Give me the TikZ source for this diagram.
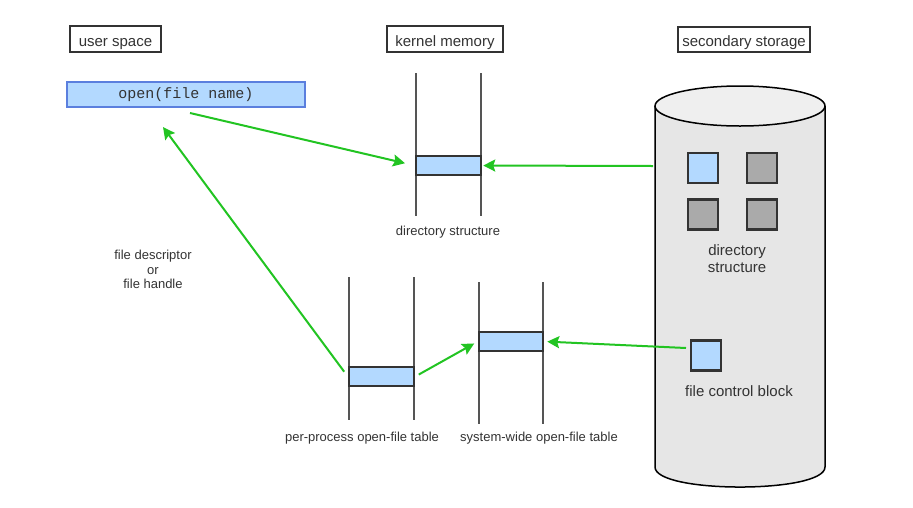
\documentclass[tikz,border=0pt]{standalone}
\usepackage{fontspec}
\setmainfont{Liberation Sans}
\newfontfamily\monof{Liberation Mono}
\usetikzlibrary{arrows.meta}
\definecolor{grn}{RGB}{34,196,34}
\definecolor{lblue}{RGB}{179,217,255}
\definecolor{bblue}{RGB}{91,127,222}
\definecolor{txt}{RGB}{51,51,51}
\definecolor{dk}{RGB}{51,51,51}
\definecolor{vline}{RGB}{85,85,85}
\definecolor{sqgray}{RGB}{170,170,170}
\definecolor{cylbody}{RGB}{230,230,230}
\definecolor{cyltop}{RGB}{239,239,239}
\begin{document}
\begin{tikzpicture}[x=1pt,y=-1pt,
  hdr/.style={draw=dk,line width=2pt,inner sep=0pt,text=txt,font=\fontsize{15}{18}\selectfont,text height=16pt,text depth=2pt},
  entry/.style={draw=dk,fill=lblue,line width=2.5pt,inner sep=0pt,minimum width=65pt,minimum height=19pt},
  sq/.style={draw=dk,line width=2.2pt,inner sep=0pt,minimum width=30pt,minimum height=30pt},
  lbl/.style={text=txt,inner sep=0pt,font=\fontsize{13}{16}\selectfont,align=center},
  lblbig/.style={text=txt,inner sep=0pt,font=\fontsize{15}{18}\selectfont,align=center},
  wall/.style={draw=vline,line width=2pt},
  arr/.style={draw=grn,line width=2pt,-{Stealth[length=12pt,width=12pt,inset=2pt]}}]
\useasboundingbox (0,0) rectangle (913,507);
\fill[white] (0,0) rectangle (913,507);

% headers
\node[hdr,minimum width=91pt,minimum height=26pt] (us) at (115.5,39) {user space};
\node[hdr,minimum width=116pt,minimum height=26pt] (km) at (445,39) {kernel memory};
\node[hdr,minimum width=132pt,minimum height=25pt] (ss) at (744,39.5) {secondary storage};

% open box
\node[draw=bblue,fill=lblue,line width=2pt,inner sep=0pt,minimum width=238pt,minimum height=25pt,font=\monof\fontsize{15}{18}\selectfont,text=txt] (op) at (186,94.5) {open(file name)};

% cylinder
\path[fill=cylbody,draw=black,line width=1.5pt] (655,106) -- (655,467) .. controls (655,493.7) and (825,493.7) .. (825,467) -- (825,106);
\path[fill=cyltop,draw=black,line width=1.5pt] (740,106) ellipse [x radius=85, y radius=20];

\node[sq,fill=lblue] (s1) at (703,168) {};
\node[sq,fill=sqgray] (s2) at (762,168) {};
\node[sq,fill=sqgray] (s3) at (703,214.5) {};
\node[sq,fill=sqgray] (s4) at (762,214.5) {};
\node[lblbig] (dsl) at (737,258.5) {directory\\[-0.5pt]structure};
\node[sq,fill=lblue] (fcb) at (706,355.5) {};
\node[lblbig] (fcbl) at (739,391.5) {file control block};

% kernel directory structure
\draw[wall] (416,73) -- (416,216);
\draw[wall] (481,73) -- (481,216);
\node[entry] (kd) at (448.5,165.5) {};
\node[lbl] (kdl) at (448,232) {directory structure};

% per-process table
\draw[wall] (349,277) -- (349,420);
\draw[wall] (414,277) -- (414,420);
\node[entry] (pp) at (381.5,376.5) {};
\node[lbl] (ppl) at (362,438) {per-process open-file table};

% system-wide table
\draw[wall] (479,282) -- (479,424);
\draw[wall] (543,282) -- (543,424);
\node[entry,minimum width=64pt] (sw) at (511,341.5) {};
\node[lbl] (swl) at (539,438) {system-wide open-file table};

% descriptor label
\node[lbl,font=\fontsize{13}{14.5}\selectfont] (fd) at (153,269.5) {file descriptor\\or\\file handle};

% connectors
\coordinate (c1) at (190,113);
\coordinate (c2) at (653,166);
\coordinate (c3) at (163,127);
\coordinate (c5) at (686,348);
\draw[arr,shorten >=10pt] (c1) -- (kd.west);
\draw[arr,shorten >=1pt] (c2) -- (kd.east);
\draw[arr,shorten <=6pt] (pp.west) -- (c3);
\draw[arr,shorten <=4pt,shorten >=4pt] (pp.east) -- (sw.west);
\draw[arr,shorten >=3pt] (c5) -- (sw.east);
\end{tikzpicture}
\end{document}
